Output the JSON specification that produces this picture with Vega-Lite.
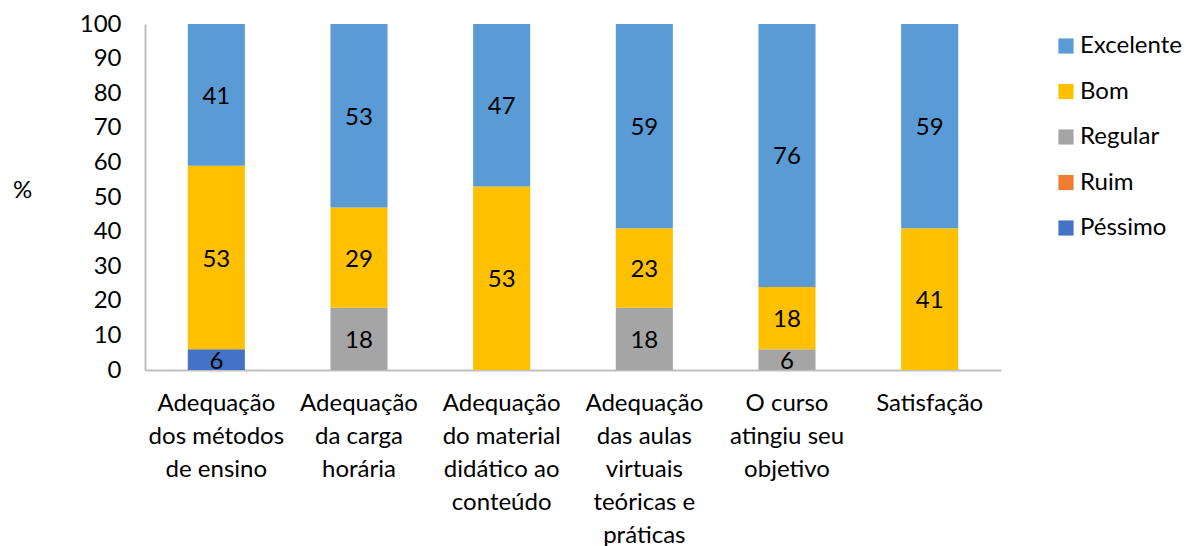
{
  "$schema": "https://vega.github.io/schema/vega-lite/v6.json",
  "width": 856,
  "height": 346,
  "autosize": "none",
  "padding": {"left": 145, "top": 24, "right": 185, "bottom": 176},
  "background": "white",
  "config": {
    "font": "Lato",
    "view": {"stroke": null},
    "axis": {"grid": false, "ticks": false, "domainColor": "#BFBFBF", "domainWidth": 2, "labelColor": "#000000", "labelFont": "Lato", "labelFontSize": 24, "titleFont": "Lato"}
  },
  "data": {
    "values": [
      {"categoria": "Adequação dos métodos de ensino", "serie": "Péssimo", "valor": 6},
      {"categoria": "Adequação dos métodos de ensino", "serie": "Bom", "valor": 53},
      {"categoria": "Adequação dos métodos de ensino", "serie": "Excelente", "valor": 41},
      {"categoria": "Adequação da carga horária", "serie": "Regular", "valor": 18},
      {"categoria": "Adequação da carga horária", "serie": "Bom", "valor": 29},
      {"categoria": "Adequação da carga horária", "serie": "Excelente", "valor": 53},
      {"categoria": "Adequação do material didático ao conteúdo", "serie": "Bom", "valor": 53},
      {"categoria": "Adequação do material didático ao conteúdo", "serie": "Excelente", "valor": 47},
      {"categoria": "Adequação das aulas virtuais teóricas e práticas", "serie": "Regular", "valor": 18},
      {"categoria": "Adequação das aulas virtuais teóricas e práticas", "serie": "Bom", "valor": 23},
      {"categoria": "Adequação das aulas virtuais teóricas e práticas", "serie": "Excelente", "valor": 59},
      {"categoria": "O curso atingiu seu objetivo", "serie": "Regular", "valor": 6},
      {"categoria": "O curso atingiu seu objetivo", "serie": "Bom", "valor": 18},
      {"categoria": "O curso atingiu seu objetivo", "serie": "Excelente", "valor": 76},
      {"categoria": "Satisfação", "serie": "Bom", "valor": 41},
      {"categoria": "Satisfação", "serie": "Excelente", "valor": 59}
    ]
  },
  "transform": [
    {"stack": "valor", "groupby": ["categoria"], "as": ["v0", "v1"]},
    {"calculate": "(datum.v0 + datum.v1) / 2", "as": "meio"}
  ],
  "encoding": {
    "x": {
      "field": "categoria",
      "type": "nominal",
      "sort": null,
      "scale": {"paddingInner": 0.6, "paddingOuter": 0.3},
      "axis": {
        "title": null,
        "labelAngle": 0,
        "labelPadding": 21,
        "labelBaseline": "top",
        "labelLineHeight": 33,
        "labelLimit": 0,
        "labelExpr": "datum.value == 'Adequação dos métodos de ensino' ? ['Adequação','dos métodos','de ensino'] : datum.value == 'Adequação da carga horária' ? ['Adequação','da carga','horária'] : datum.value == 'Adequação do material didático ao conteúdo' ? ['Adequação','do material','didático ao','conteúdo'] : datum.value == 'Adequação das aulas virtuais teóricas e práticas' ? ['Adequação','das aulas','virtuais','teóricas e','práticas'] : datum.value == 'O curso atingiu seu objetivo' ? ['O curso','atingiu seu','objetivo'] : datum.value"
      }
    }
  },
  "layer": [
    {
      "mark": {"type": "bar"},
      "encoding": {
        "y": {
          "field": "v1",
          "type": "quantitative",
          "scale": {"domain": [0, 100], "nice": false},
          "axis": {
            "title": "%",
            "titleAngle": 0,
            "titleFontSize": 24,
            "titleFontWeight": "normal",
            "titleX": -123,
            "titleY": 166,
            "titleAlign": "center",
            "titleBaseline": "middle",
            "values": [0, 10, 20, 30, 40, 50, 60, 70, 80, 90, 100],
            "labelOverlap": false,
            "labelPadding": 24
          }
        },
        "y2": {"field": "v0"},
        "color": {
          "field": "serie",
          "type": "nominal",
          "scale": {
            "domain": ["Excelente", "Bom", "Regular", "Ruim", "Péssimo"],
            "range": ["#5B9BD5", "#FFC000", "#A5A5A5", "#ED7D31", "#4472C4"]
          },
          "legend": {
            "title": null,
            "orient": "none",
            "legendX": 909,
            "legendY": 10,
            "symbolType": "square",
            "symbolSize": 230,
            "symbolStrokeWidth": 0,
            "labelFontSize": 24,
            "labelFont": "Lato",
            "labelColor": "#000000",
            "rowPadding": 21.5,
            "labelOffset": 2
          }
        }
      }
    },
    {
      "mark": {"type": "text", "fontSize": 24, "color": "#000000", "baseline": "middle", "align": "center", "dy": 2},
      "encoding": {
        "y": {
          "field": "meio",
          "type": "quantitative",
          "axis": {
            "title": "%",
            "titleAngle": 0,
            "titleFontSize": 24,
            "titleFontWeight": "normal",
            "titleX": -123,
            "titleY": 166,
            "titleAlign": "center",
            "titleBaseline": "middle",
            "values": [0, 10, 20, 30, 40, 50, 60, 70, 80, 90, 100],
            "labelOverlap": false,
            "labelPadding": 24
          }
        },
        "text": {"field": "valor", "type": "quantitative"}
      }
    }
  ]
}
